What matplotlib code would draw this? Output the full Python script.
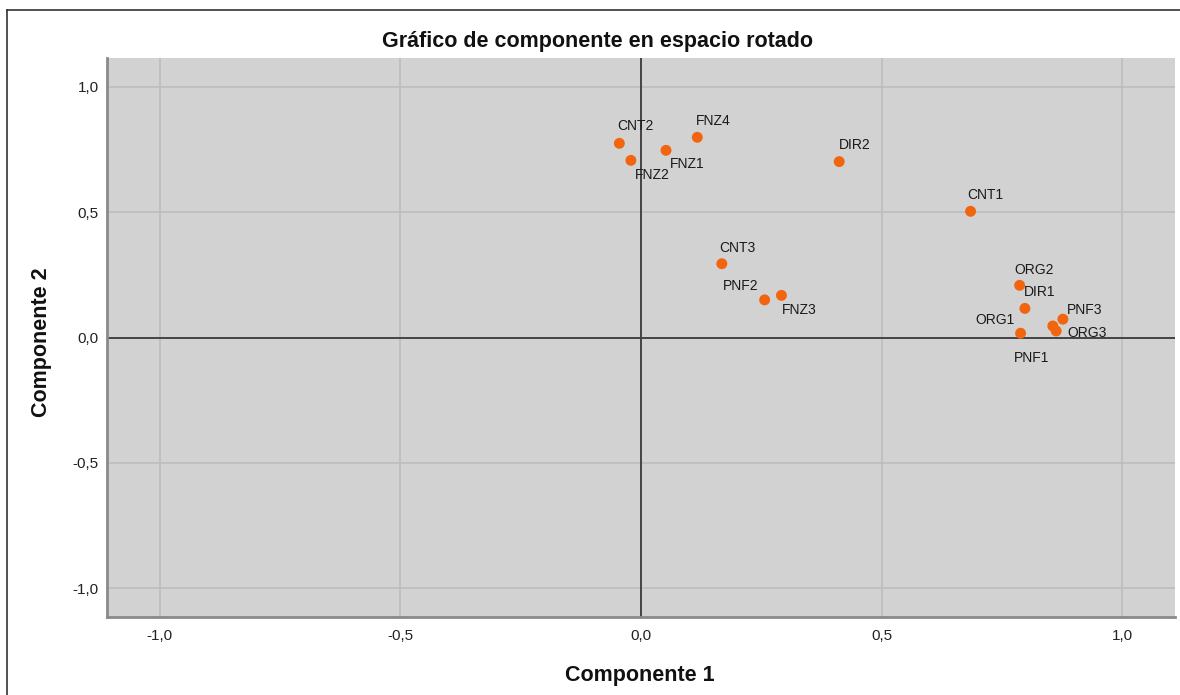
import matplotlib
matplotlib.use("Agg")
import matplotlib.pyplot as plt
from matplotlib.lines import Line2D

plt.rcParams['font.family'] = ['Liberation Sans', 'DejaVu Sans']

labels = ["CNT2", "FNZ2", "FNZ1", "FNZ4", "DIR2", "CNT3", "PNF2", "FNZ3",
          "CNT1", "ORG2", "DIR1", "PNF3", "ORG1", "ORG3", "PNF1"]
comp1 = [-0.045, -0.021, 0.052, 0.117, 0.412, 0.168, 0.257, 0.292,
         0.685, 0.787, 0.798, 0.877, 0.856, 0.863, 0.789]
comp2 = [0.774, 0.706, 0.746, 0.798, 0.701, 0.294, 0.150, 0.168,
         0.503, 0.208, 0.116, 0.073, 0.046, 0.026, 0.017]
# label offsets in pixels (dx right, dy down)
offsets = {
    "CNT2": (16, -17), "FNZ2": (21, 15), "FNZ1": (21, 14), "FNZ4": (16, -16),
    "DIR2": (16, -17), "CNT3": (16, -16), "PNF2": (-24, -14), "FNZ3": (18, 15),
    "CNT1": (15, -16), "ORG2": (15, -15), "DIR1": (15, -16), "PNF3": (22, -9),
    "ORG1": (-58, -6), "ORG3": (31, 2), "PNF1": (11, 25),
}
ticks = [-1.0, -0.5, 0.0, 0.5, 1.0]
tick_labels = ["-1,0", "-0,5", "0,0", "0,5", "1,0"]

fig = plt.figure(figsize=(11.8, 6.95), dpi=100)
ax = fig.add_axes([107/1180, 1-617/695, (1175-107)/1180, (617-58)/695])
ax.set_facecolor("#D3D2D3")
ax.set_xlim(-1.110, 1.110)
ax.set_ylim(-1.114, 1.114)

for t in [-1.0, -0.5, 0.5, 1.0]:
    ax.axvline(t, color="#BBBBBB", lw=1.1, zorder=1)
    ax.axhline(t, color="#BBBBBB", lw=1.1, zorder=1)
ax.axvline(0, color="#444444", lw=1.4, zorder=2)
ax.axhline(0, color="#444444", lw=1.4, zorder=2)

ax.scatter(comp1, comp2, s=62, color="#F2650F", edgecolors="none", zorder=3)
for lab, x, y in zip(labels, comp1, comp2):
    dx, dy = offsets[lab]
    ax.annotate(lab, (x, y), xytext=(dx * 0.72, -dy * 0.72), textcoords="offset points",
                ha="center", va="center", fontsize=10, color="#1a1a1a", zorder=4)

ax.set_xticks(ticks)
ax.set_xticklabels(tick_labels)
ax.set_yticks(ticks)
ax.set_yticklabels(tick_labels)
ax.tick_params(axis="x", length=0, labelsize=11, colors="#222222", pad=9)
ax.tick_params(axis="y", length=0, labelsize=11, colors="#222222", pad=6)
for s in ["top", "right"]:
    ax.spines[s].set_visible(False)
for s in ["left", "bottom"]:
    ax.spines[s].set_color("#8A8A8A")
    ax.spines[s].set_linewidth(2)

fig.text(597/1180, 1-42/695, "Gráfico de componente en espacio rotado",
         ha="center", va="center", fontsize=15.5, fontweight="bold", color="#111111")
fig.text(640/1180, 1-675/695, "Componente 1", ha="center", va="center",
         fontsize=15.5, fontweight="bold", color="#111111")
fig.text(42/1180, 1-342/695, "Componente 2", ha="center", va="center",
         rotation=90, fontsize=15.5, fontweight="bold", color="#111111")

fig.add_artist(Line2D([7/1180, 7/1180], [0, 1-10/695], transform=fig.transFigure,
                      color="#333333", lw=1.2))
fig.add_artist(Line2D([7/1180, 1], [1-10/695, 1-10/695], transform=fig.transFigure,
                      color="#333333", lw=1.2))

fig.savefig("out.png", dpi=100)
